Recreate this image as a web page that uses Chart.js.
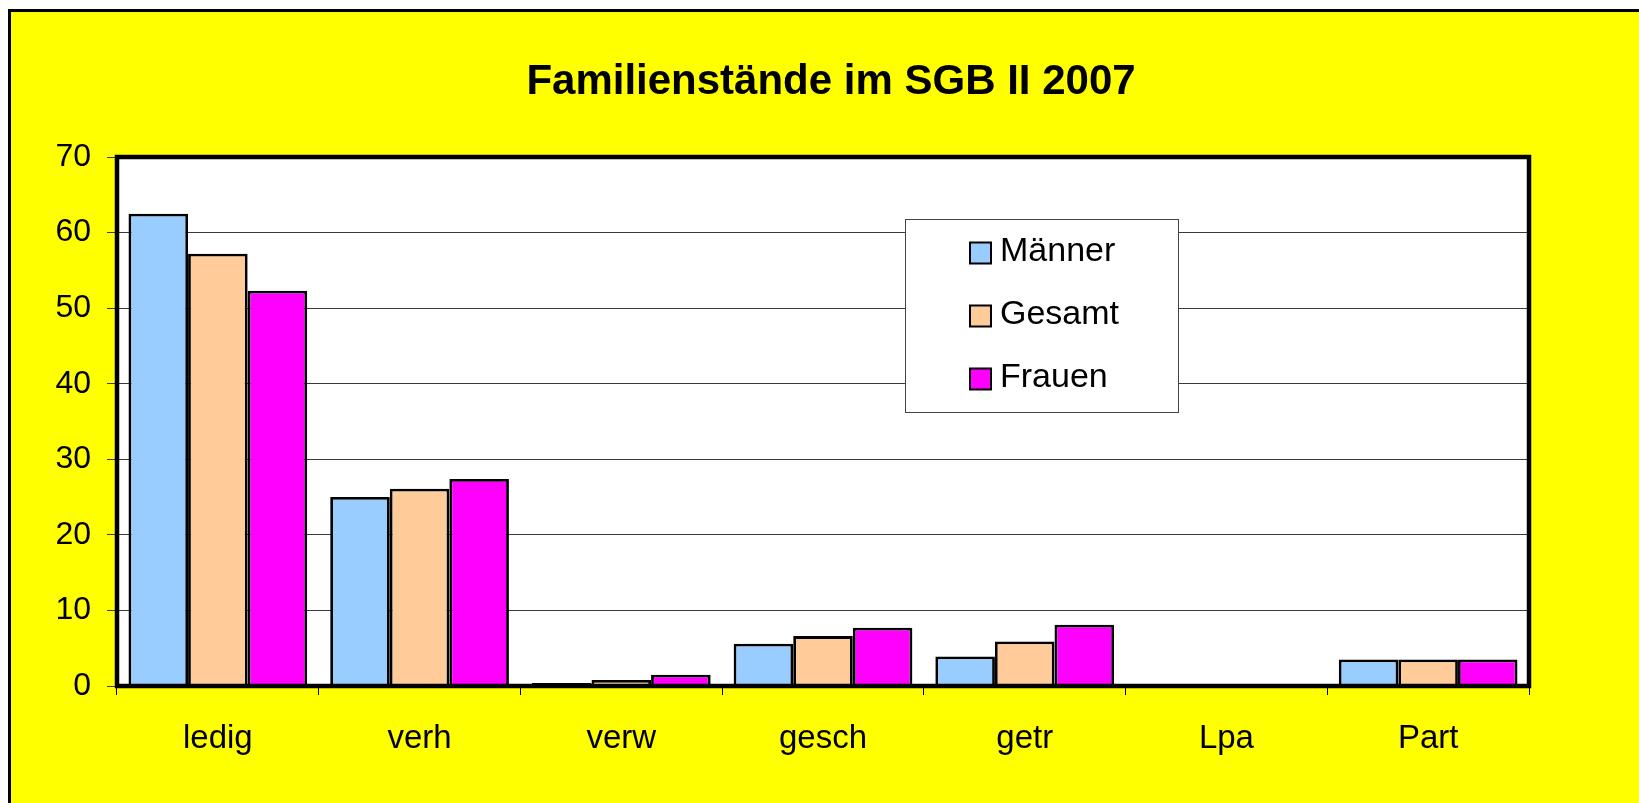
<!DOCTYPE html>
<html>
<head>
<meta charset="utf-8">
<script src="https://cdn.jsdelivr.net/npm/chart.js@4/dist/chart.umd.min.js"></script>
<style>
  html, body { margin: 0; padding: 0; background: #ffffff; overflow: hidden; }
  #frame { position: absolute; left: 8px; top: 9px; width: 1700px; height: 900px;
           background: #ffff00; border-left: 3px solid #000; border-top: 3px solid #000; }
  #wrap { position: absolute; left: 0; top: 0; width: 1639px; height: 803px; }
</style>
</head>
<body>
<div id="frame"></div>
<div id="wrap"><canvas id="c" width="1639" height="803"></canvas></div>
<script>
const categories = ['ledig', 'verh', 'verw', 'gesch', 'getr', 'Lpa', 'Part'];
const maenner = [62.5, 25.0, 0.4, 5.6, 3.9, 0, 3.5];
const gesamt  = [57.2, 26.1, 0.8, 6.6, 5.9, 0, 3.5];
const frauen  = [52.3, 27.4, 1.5, 7.7, 8.1, 0, 3.5];
const yTicks  = [0, 10, 20, 30, 40, 50, 60, 70];
const chartTitle = 'Familienstände im SGB II 2007';

const FONT = "'Liberation Sans', Arial, sans-serif";

const plotBackground = {
  id: 'plotBackground',
  beforeDraw(chart) {
    const {ctx, chartArea: a} = chart;
    ctx.save();
    ctx.fillStyle = '#ffffff';
    ctx.fillRect(a.left, a.top, a.right - a.left, a.bottom - a.top);
    ctx.restore();
  }
};

const frameBorder = {
  id: 'frameBorder',
  afterDatasetsDraw(chart) {
    const {ctx, chartArea: a} = chart;
    ctx.save();
    ctx.strokeStyle = '#000';
    ctx.lineWidth = 4.5;
    ctx.strokeRect(a.left, a.top, a.right - a.left, a.bottom - a.top);
    ctx.restore();
  }
};

const innerLegend = {
  id: 'innerLegend',
  afterDraw(chart) {
    const ctx = chart.ctx;
    const box = {x: 905, y: 219, w: 273, h: 193};
    ctx.save();
    ctx.fillStyle = '#fff';
    ctx.fillRect(box.x, box.y, box.w, box.h);
    ctx.strokeStyle = '#444';
    ctx.lineWidth = 1;
    ctx.strokeRect(box.x + 0.5, box.y + 0.5, box.w, box.h);
    ctx.font = '34px ' + FONT;
    ctx.textBaseline = 'middle';
    chart.data.datasets.forEach((ds, i) => {
      const cy = 253 + i * 63;
      ctx.fillStyle = ds.backgroundColor;
      ctx.fillRect(970, cy - 10.5, 21, 21);
      ctx.strokeStyle = '#000';
      ctx.lineWidth = 2;
      ctx.strokeRect(970, cy - 10.5, 21, 21);
      ctx.fillStyle = '#000';
      ctx.fillText(ds.label, 1000, cy - 1);
    });
    ctx.restore();
  }
};

new Chart(document.getElementById('c'), {
  type: 'bar',
  data: {
    labels: categories,
    datasets: [
      {label: 'Männer', data: maenner, backgroundColor: '#99ccff'},
      {label: 'Gesamt', data: gesamt, backgroundColor: '#ffcc99'},
      {label: 'Frauen', data: frauen, backgroundColor: '#ff00ff'}
    ]
  },
  options: {
    responsive: false,
    animation: false,
    devicePixelRatio: 1,
    layout: {padding: {left: 23, right: 0, top: 0, bottom: 0}},
    datasets: {
      bar: {
        borderColor: '#000',
        borderWidth: 2.8,
        borderSkipped: 'start',
        categoryPercentage: 0.886,
        barPercentage: 1.0
      }
    },
    plugins: {
      legend: {display: false},
      tooltip: {enabled: false},
      title: {
        display: true,
        text: chartTitle,
        color: '#000',
        font: {family: FONT, size: 42, weight: 'bold', lineHeight: 1.2},
        padding: {top: 57, bottom: 49.6}
      }
    },
    scales: {
      x: {
        grid: {display: true, offset: true, drawOnChartArea: false, drawTicks: true,
               tickLength: 9, color: '#000', lineWidth: 1},
        border: {display: false},
        ticks: {color: '#000', font: {family: FONT, size: 33}, padding: 24},
        afterFit(scale) { scale.height = 117; }
      },
      y: {
        min: 0, max: 70,
        afterBuildTicks(scale) { scale.ticks = yTicks.map(v => ({value: v})); },
        grid: {color: '#3a3a3a', lineWidth: 1, drawTicks: true, tickLength: 10},
        border: {display: false},
        ticks: {color: '#000', font: {family: FONT, size: 32}, padding: 16},
        afterFit(scale) { scale.width = 94; }
      },
      yRight: {
        position: 'right',
        display: true,
        grid: {display: false, drawTicks: false},
        border: {display: false},
        ticks: {display: false},
        afterFit(scale) { scale.width = 110; }
      }
    }
  },
  plugins: [plotBackground, frameBorder, innerLegend]
});
</script>
</body>
</html>
